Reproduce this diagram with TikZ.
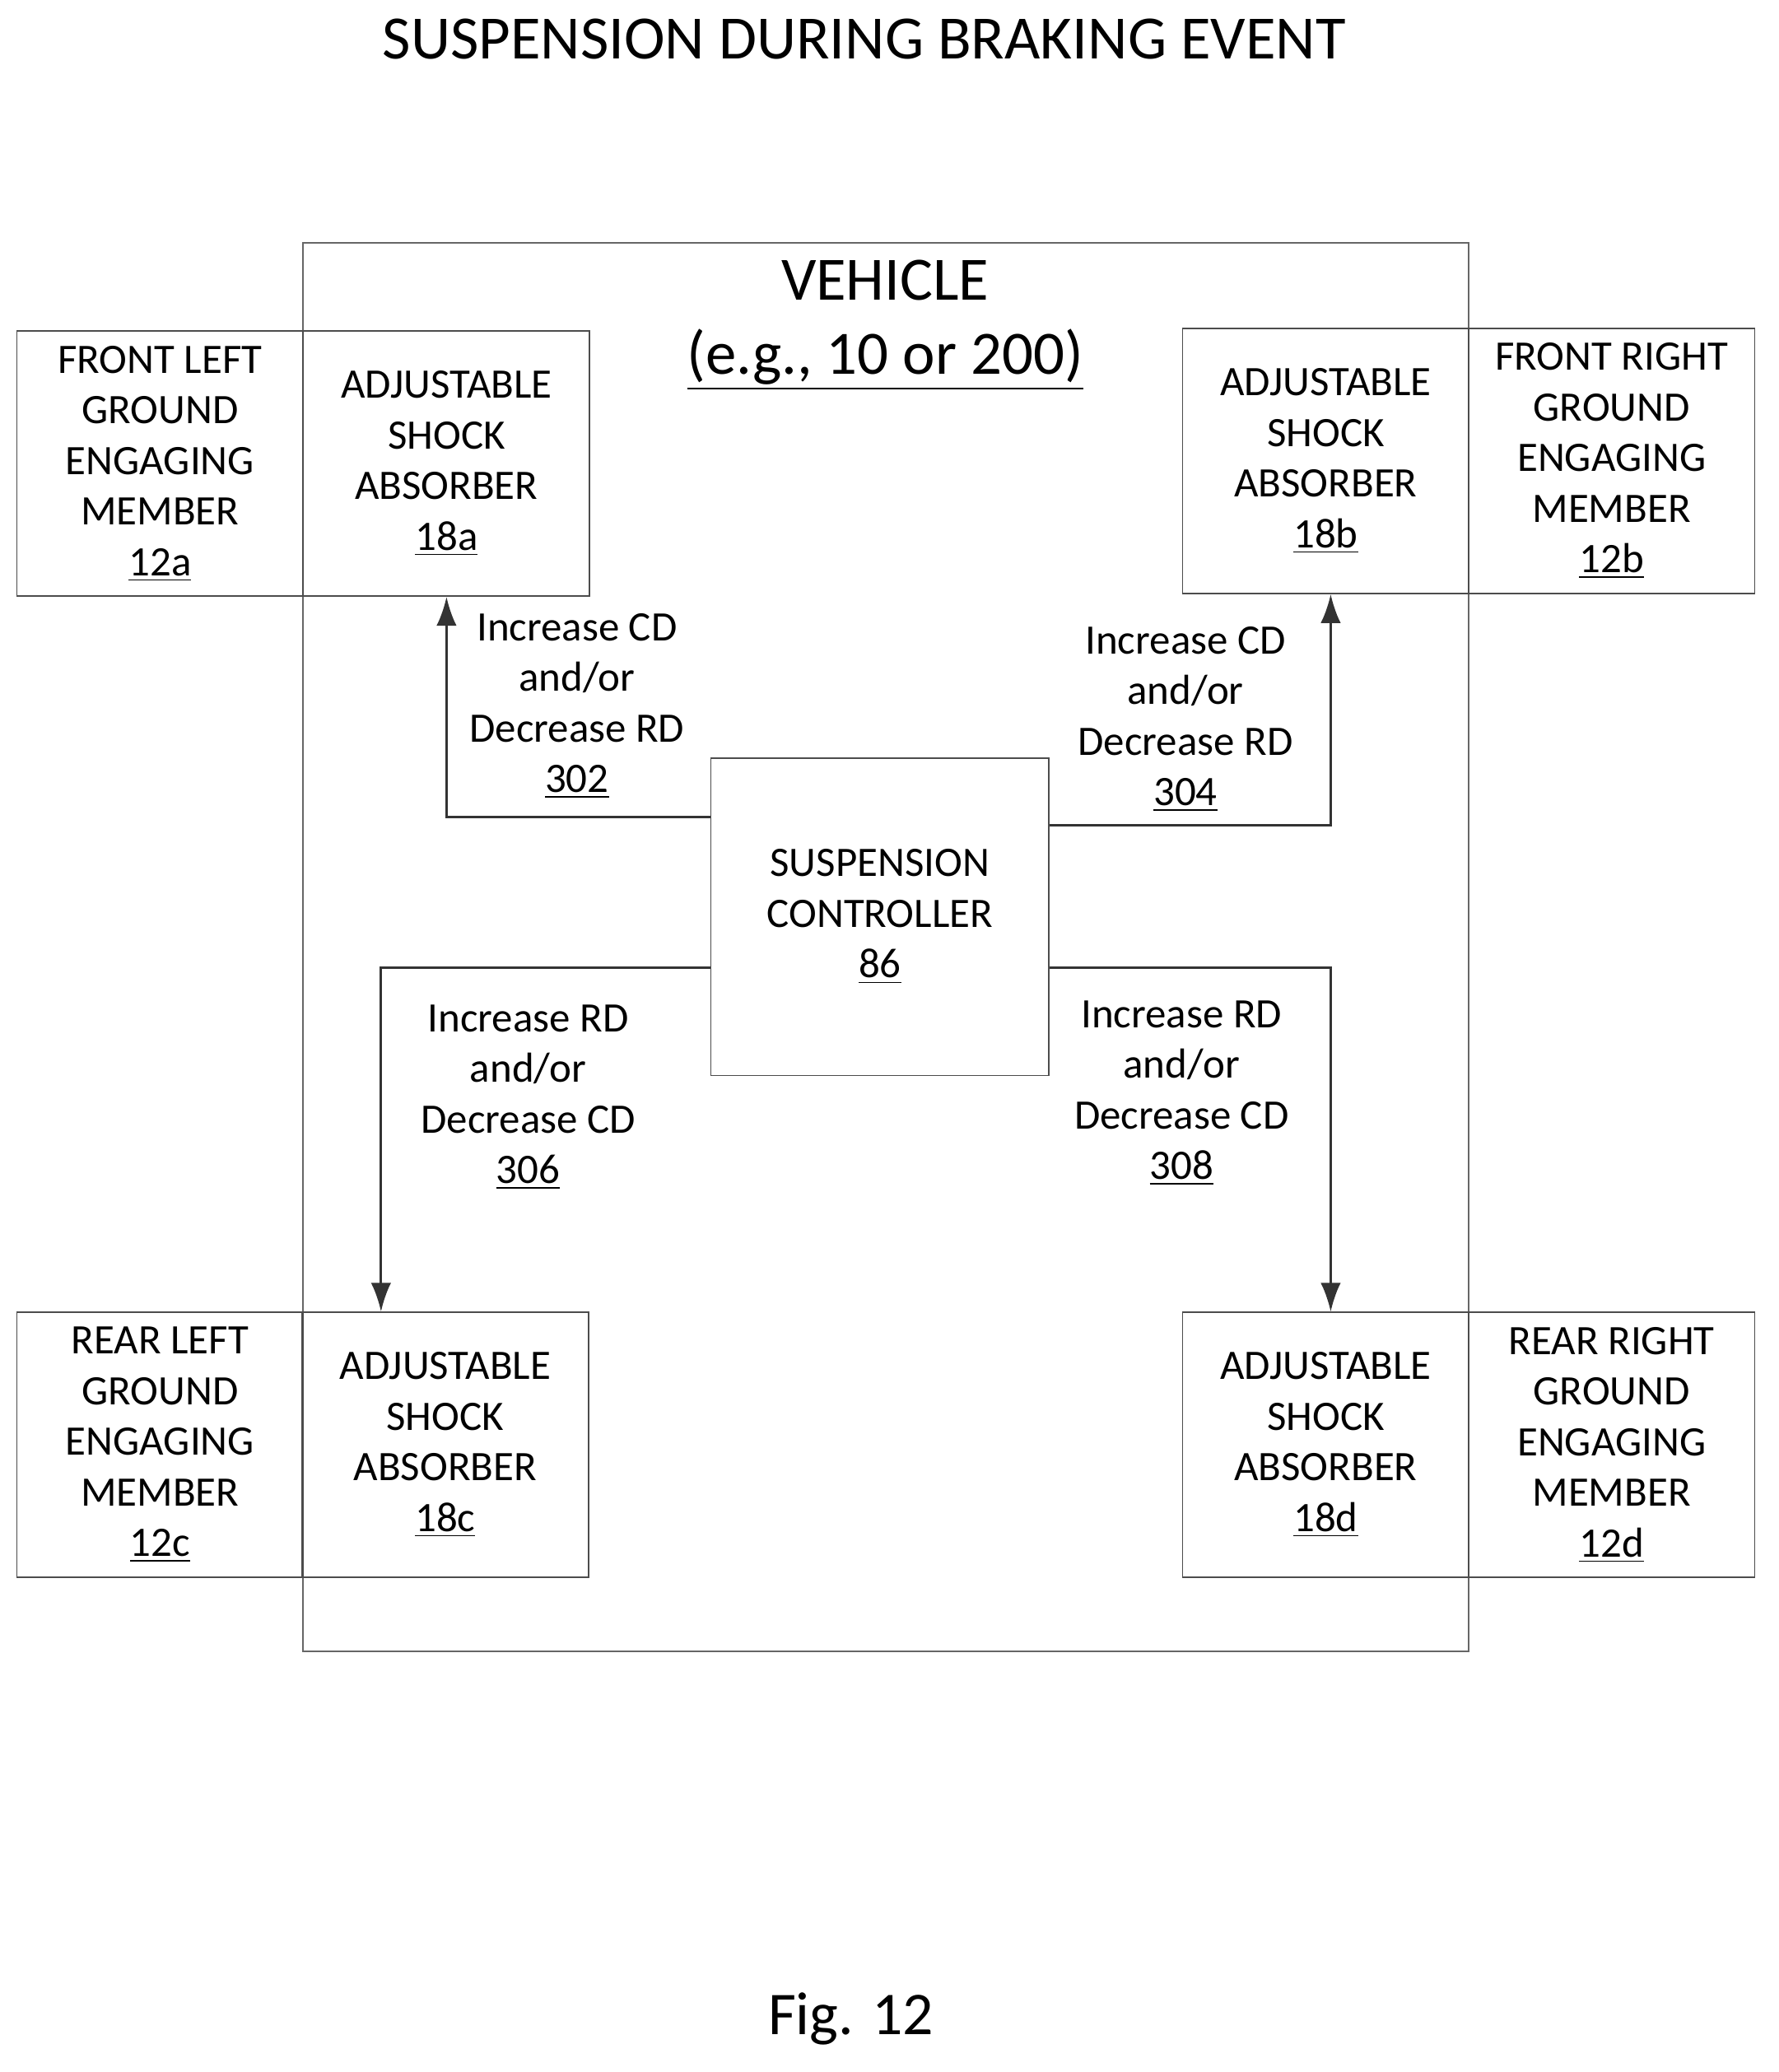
\documentclass[tikz,border=0pt]{standalone}
\usepackage{fontspec}
\setmainfont{Carlito}
\usetikzlibrary{arrows.meta}
\tikzset{
  box/.style={draw=black!70, line width=0.5pt, align=center, font=\fontsize{14.5}{17.5}\selectfont,
    minimum width=3.48cm, minimum height=3.22cm, inner sep=0pt},
  lbl/.style={align=center, font=\fontsize{14.5}{17.5}\selectfont},
  arr/.style={draw=black!80, line width=0.9pt, -{Latex[length=10pt,width=7pt]}}
}
\begin{document}
\begin{tikzpicture}[x=0.016cm, y=-0.016cm]
\useasboundingbox (0,0) rectangle (1350.6,1573.1);
% title and figure number
\node[font=\fontsize{21.3}{25}\selectfont] (title) at (656,30) {SUSPENSION DURING BRAKING EVENT};
\node[font=\fontsize{21}{25}\selectfont] (fig) at (646,1533) {Fig. 12};

% vehicle frame
\node[draw=black!60, line width=0.5pt, minimum width=14.16cm, minimum height=17.12cm, inner sep=0pt] (veh) at (672.5,719) {};
\node[align=center, font=\fontsize{21.3}{25.5}\selectfont] (vname) at (672,247) {VEHICLE\\\underline{(e.g., 10 or 200)}};

% corner boxes
\node[box] (g12a) at (121.5,352) {FRONT LEFT\\GROUND\\ENGAGING\\MEMBER\\\underline{12a}};
\node[box] (s18a) at (339,352) {ADJUSTABLE\\SHOCK\\ABSORBER\\\underline{18a}};
\node[box] (s18b) at (1006.5,350) {ADJUSTABLE\\SHOCK\\ABSORBER\\\underline{18b}};
\node[box] (g12b) at (1223.5,350) {FRONT RIGHT\\GROUND\\ENGAGING\\MEMBER\\\underline{12b}};
\node[box] (g12c) at (121.5,1097) {REAR LEFT\\GROUND\\ENGAGING\\MEMBER\\\underline{12c}};
\node[box] (s18c) at (338,1097) {ADJUSTABLE\\SHOCK\\ABSORBER\\\underline{18c}};
\node[box] (s18d) at (1006.5,1097) {ADJUSTABLE\\SHOCK\\ABSORBER\\\underline{18d}};
\node[box] (g12d) at (1223.5,1097) {REAR RIGHT\\GROUND\\ENGAGING\\MEMBER\\\underline{12d}};

% controller
\node[box, minimum width=4.11cm, minimum height=3.86cm] (ctrl) at (668,696) {SUSPENSION\\CONTROLLER\\\underline{86}};

% commands
\draw[arr] ([yshift=1.21cm]ctrl.west) -| (s18a.south);
\draw[arr] ([yshift=1.11cm]ctrl.east) -| ([xshift=0.06cm]s18b.south);
\draw[arr] ([yshift=-0.62cm]ctrl.west) -| ([xshift=-0.78cm]s18c.north);
\draw[arr] ([yshift=-0.62cm]ctrl.east) -| ([xshift=0.06cm]s18d.north);

\node[lbl] (l302) at (438,536) {Increase CD\\and/or\\Decrease RD\\\underline{302}};
\node[lbl] (l304) at (900,546) {Increase CD\\and/or\\Decrease RD\\\underline{304}};
\node[lbl] (l306) at (401,833) {Increase RD\\and/or\\Decrease CD\\\underline{306}};
\node[lbl] (l308) at (897,830) {Increase RD\\and/or\\Decrease CD\\\underline{308}};
\end{tikzpicture}
\end{document}
